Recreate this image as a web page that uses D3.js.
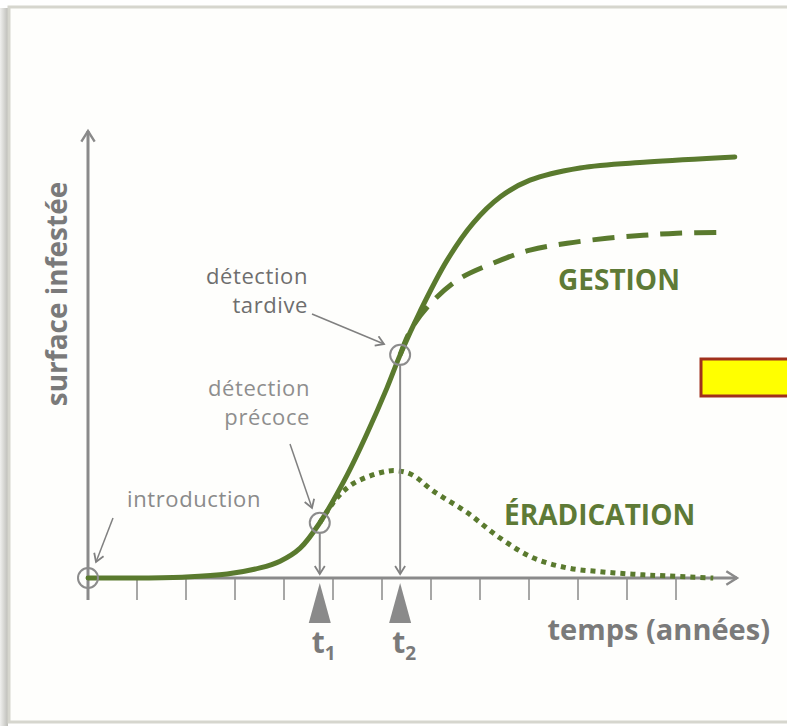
<!DOCTYPE html>
<html lang="fr">
<head>
<meta charset="UTF-8">
<title>Surface infestée - détection précoce / tardive</title>
<style>
    body { margin: 0; overflow: hidden; background: #fff; }
    svg { display: block; }
    text { font-family: "Open Sans", sans-serif; }
</style>
</head>
<body>
<svg></svg>
<script src="https://d3js.org/d3.v7.min.js"></script>
<script>
    const width = 787;
    const height = 726;

    // main invasion curve (years, infested surface %)
    const years   = [0, 1, 2, 2.84, 3.51, 3.92, 4.33, 4.73, 5.29, 5.69, 6.1, 6.37, 6.78, 7.33, 7.86, 8.41, 9.02, 10.04, 11.41, 13.2];
    const invaded = [0, 0, 0.24, 0.95, 2.4, 4.0, 7.1, 13.1, 24.5, 34.2, 45.1, 53, 63.4, 75.5, 84.3, 90.5, 94.5, 97.4, 98.8, 100];

    // GESTION scenario (dashed)
    const gestionYears = [6.37, 6.57, 6.92, 7.53, 8.27, 9.02, 9.78, 10.59, 11.33, 12.02, 12.94];
    const gestionVals  = [53, 58.6, 64.3, 70.7, 74.8, 77.9, 79.5, 80.7, 81.4, 81.9, 82.1];

    // ÉRADICATION scenario (dotted)
    const eradYears = [4.73, 5.08, 5.41, 5.96, 6.27, 6.6, 7.04, 7.73, 8.41, 9.08, 9.78, 10.45, 11.12, 11.8, 12.76];
    const eradVals  = [13.1, 19, 22.4, 25, 25.5, 24.6, 20.7, 15.6, 9.5, 4.8, 2.4, 1.5, 0.9, 0.5, 0];

    // detection moments
    const detections = [
        { label: "1", year: 4.73, value: 13.1 },
        { label: "2", year: 6.37, value: 53 }
    ];
    const tickYears = d3.range(0, 13);

    const green = "#5a7a2e";
    const axisGray = "#8a8a8a";
    const textGray = "#7a7a7a";

    const svg = d3.select("svg")
        .attr("width", width)
        .attr("height", height);

    const x = d3.scaleLinear().domain([0, 12]).range([88, 676]);
    const y = d3.scaleLinear().domain([0, 100]).range([578, 157]);

    // frame
    const defs = svg.append("defs");
    const grad = defs.append("linearGradient").attr("id", "shadow");
    grad.append("stop").attr("offset", "0%").attr("stop-color", "#f0f0ee");
    grad.append("stop").attr("offset", "100%").attr("stop-color", "#bdbdb8");
    svg.append("rect").attr("x", 0).attr("y", 8).attr("width", 8).attr("height", 718).attr("fill", "url(#shadow)");
    svg.append("rect")
        .attr("x", 9).attr("y", 7).attr("width", 790).attr("height", 715)
        .attr("fill", "#fefefc").attr("stroke", "#d6d6ce").attr("stroke-width", 3);

    // arrow markers
    function chevron(id, color, size) {
        defs.append("marker")
            .attr("id", id)
            .attr("viewBox", "-10 -6 12 12")
            .attr("refX", 0).attr("refY", 0)
            .attr("markerWidth", size).attr("markerHeight", size)
            .attr("markerUnits", "userSpaceOnUse")
            .attr("orient", "auto")
            .append("path")
            .attr("d", "M-8,-5 L0,0 L-8,5")
            .attr("fill", "none")
            .attr("stroke", color)
            .attr("stroke-width", 1.8);
    }
    chevron("axisArrow", axisGray, 16);
    chevron("noteArrow", "#808080", 12);

    // axes
    svg.append("line")
        .attr("x1", x(0)).attr("y1", 600).attr("x2", x(0)).attr("y2", 131)
        .attr("stroke", axisGray).attr("stroke-width", 3)
        .attr("marker-end", "url(#axisArrow)");
    svg.append("line")
        .attr("x1", x(0)).attr("y1", y(0)).attr("x2", 737).attr("y2", y(0))
        .attr("stroke", axisGray).attr("stroke-width", 3)
        .attr("marker-end", "url(#axisArrow)");

    svg.append("g")
        .selectAll("line")
        .data(tickYears)
        .join("line")
        .attr("x1", d => x(d)).attr("x2", d => x(d))
        .attr("y1", y(0)).attr("y2", 600)
        .attr("stroke", axisGray).attr("stroke-width", 1.5);

    svg.append("text")
        .attr("transform", "translate(67,294) rotate(-90)")
        .attr("text-anchor", "middle")
        .style("font-size", "28px").style("font-weight", "bold")
        .attr("fill", textGray)
        .text("surface infestée");

    svg.append("text")
        .attr("x", 770).attr("y", 640)
        .attr("text-anchor", "end")
        .style("font-size", "29px").style("font-weight", "bold")
        .attr("fill", textGray)
        .text("temps (années)");

    // curves
    const line = d3.line()
        .x(d => x(d[0]))
        .y(d => y(d[1]))
        .curve(d3.curveCatmullRom.alpha(0.5));

    svg.append("path")
        .datum(eradYears.map((d, i) => [d, eradVals[i]]))
        .attr("d", line)
        .attr("fill", "none").attr("stroke", green)
        .attr("stroke-width", 5).attr("stroke-dasharray", "5,5");

    svg.append("path")
        .datum(gestionYears.map((d, i) => [d, gestionVals[i]]))
        .attr("d", line)
        .attr("fill", "none").attr("stroke", green)
        .attr("stroke-width", 5).attr("stroke-dasharray", "22,12");

    svg.append("path")
        .datum(years.map((d, i) => [d, invaded[i]]))
        .attr("d", line)
        .attr("fill", "none").attr("stroke", green)
        .attr("stroke-width", 5).attr("stroke-linecap", "round");

    // detection markers
    const det = svg.append("g");
    det.selectAll("line")
        .data(detections)
        .join("line")
        .attr("x1", d => x(d.year)).attr("x2", d => x(d.year))
        .attr("y1", d => y(d.value) + 10).attr("y2", y(0) - 4)
        .attr("stroke", axisGray).attr("stroke-width", 2)
        .attr("marker-end", "url(#noteArrow)");

    det.selectAll("path")
        .data(detections)
        .join("path")
        .attr("d", d => `M${x(d.year)},${y(0) + 5} L${x(d.year) - 11},${y(0) + 45} L${x(d.year) + 11},${y(0) + 45} Z`)
        .attr("fill", axisGray);

    const tLabel = det.selectAll("text")
        .data(detections)
        .join("text")
        .attr("x", d => x(d.year) - 8).attr("y", 653)
        .attr("fill", textGray)
        .style("font-weight", "bold");
    tLabel.append("tspan").style("font-size", "30px").text("t");
    tLabel.append("tspan").attr("dy", 7).style("font-size", "19px").text(d => d.label);

    // circles
    const circles = [{ year: 0, value: 0 }].concat(detections);
    svg.append("g")
        .selectAll("circle")
        .data(circles)
        .join("circle")
        .attr("cx", d => x(d.year)).attr("cy", d => y(d.value))
        .attr("r", 10)
        .attr("fill", "none").attr("stroke", "#8c8c8c").attr("stroke-width", 2);

    // annotations
    function note(lines, xr, y0, color) {
        svg.append("g").selectAll("text")
            .data(lines)
            .join("text")
            .attr("x", xr).attr("y", (d, i) => y0 + i * 29)
            .attr("text-anchor", "end")
            .style("font-size", "22px")
            .style("letter-spacing", "0.6px")
            .attr("fill", color)
            .text(d => d);
    }
    note(["détection", "tardive"], 308, 284, "#6e6e6e");
    note(["détection", "précoce"], 310, 396, "#8e8e8e");
    note(["introduction"], 261, 507, "#8a8a8a");

    const arrows = [
        [312, 314, 384, 344],
        [290, 444, 312, 508],
        [113, 518, 96, 562]
    ];
    svg.append("g").selectAll("line")
        .data(arrows)
        .join("line")
        .attr("x1", d => d[0]).attr("y1", d => d[1])
        .attr("x2", d => d[2]).attr("y2", d => d[3])
        .attr("stroke", "#808080").attr("stroke-width", 1.5)
        .attr("marker-end", "url(#noteArrow)");

    // scenario labels
    svg.append("text")
        .attr("x", 558).attr("y", 290)
        .style("font-size", "28px").style("font-weight", "bold")
        .attr("fill", "#5e7a36")
        .text("GESTION");
    svg.append("text")
        .attr("x", 504).attr("y", 525)
        .style("font-size", "28px").style("font-weight", "bold")
        .attr("fill", "#5e7a36")
        .text("ÉRADICATION");

    // highlight box
    svg.append("rect")
        .attr("x", 701).attr("y", 359).attr("width", 100).attr("height", 37)
        .attr("fill", "#ffff00").attr("stroke", "#a0301c").attr("stroke-width", 3);
</script>
</body>
</html>
